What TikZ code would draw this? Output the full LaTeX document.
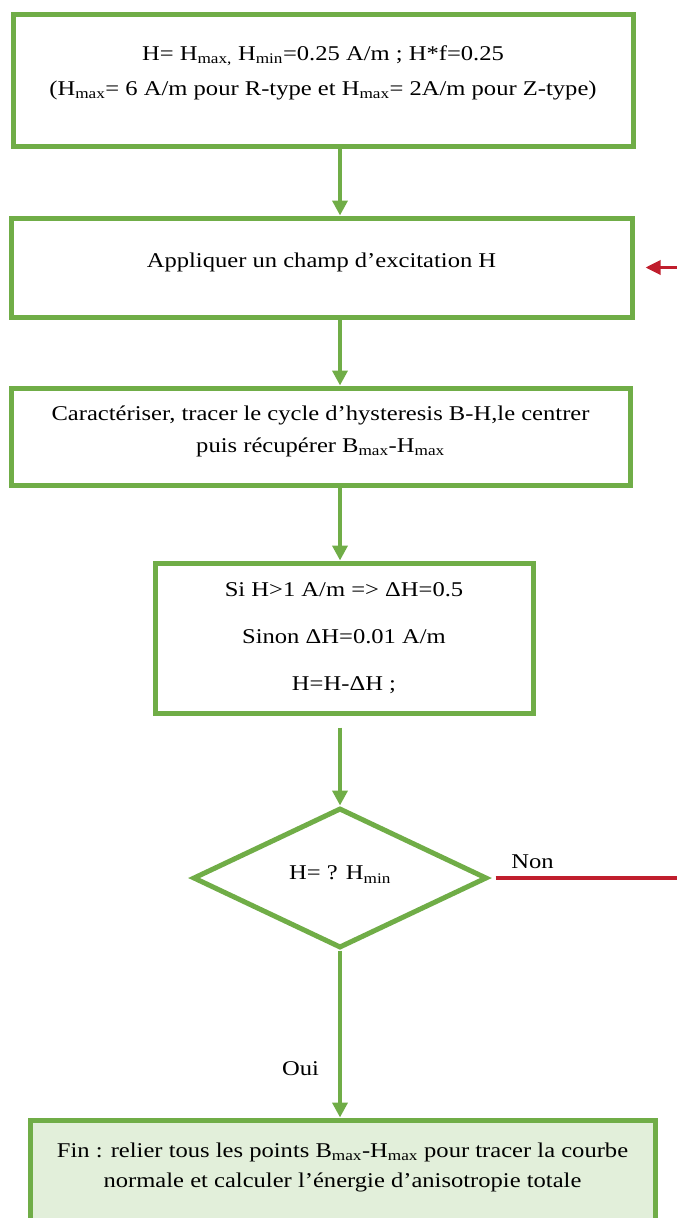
\documentclass[tikz,border=0pt]{standalone}
\usepackage{fontspec}
\setmainfont[FakeStretch=1.17]{Liberation Serif}
\usetikzlibrary{arrows.meta}
\usetikzlibrary{shapes.geometric}
\definecolor{boxgreen}{RGB}{112,173,71}
\definecolor{loopred}{RGB}{192,30,45}
\definecolor{finfill}{RGB}{226,239,218}

\begin{document}
\begin{tikzpicture}[x=1pt, y=-1pt,
  box/.style={draw=boxgreen, line width=5pt, fill=white, inner sep=0pt, align=center},
  test/.style={diamond, aspect=2.1, draw=boxgreen, line width=5pt, inner sep=0pt, font=\fontsize{21}{25}\selectfont},
  flow/.style={draw=boxgreen, line width=4pt, -{Triangle[length=15pt, width=15pt]}},
  back/.style={draw=loopred, line width=3.3pt},
  tag/.style={font=\fontsize{21}{25}\selectfont, inner sep=2pt}]

% Page frame
\useasboundingbox (0,0) rectangle (677,1218);
\clip (0,0) rectangle (677,1218);

% Boxes
\node[box, minimum width=620, minimum height=132, font=\fontsize{21}{35}\selectfont] (init) at (323,80)
  {H= H\textsubscript{max,} H\textsubscript{min}=0.25 A/m ; H*f=0.25\\
   (H\textsubscript{max}= 6 A/m pour R-type et H\textsubscript{max}= 2A/m pour Z-type)\rule[-19pt]{0pt}{0pt}};
\node[box, minimum width=621, minimum height=99, font=\fontsize{21}{32}\selectfont] (champ) at (321.5,267.5)
  {Appliquer un champ d’excitation H\rule[-15pt]{0pt}{0pt}};
\node[box, minimum width=619, minimum height=97, font=\fontsize{21}{32}\selectfont] (cycle) at (320.5,436.5)
  {Caractériser, tracer le cycle d’hysteresis B-H,le centrer\\
   puis récupérer B\textsubscript{max}-H\textsubscript{max}\rule[-15pt]{0pt}{0pt}};
\node[box, minimum width=378, minimum height=150, font=\fontsize{21}{47}\selectfont] (pas) at (344,638)
  {Si H>1 A/m => ΔH=0.5\\ Sinon ΔH=0.01 A/m\\ H=H-ΔH ;};
\node[test, minimum width=294, minimum height=140] (test) at (340,878)
  {H= ? H\textsubscript{min}\rule[-10pt]{0pt}{0pt}};
\node[box, fill=finfill, minimum width=625, minimum height=140, font=\fontsize{21}{30}\selectfont] (fin) at (342.5,1190)
  {Fin : relier tous les points B\textsubscript{max}-H\textsubscript{max} pour tracer la courbe\\
   normale et calculer l’énergie d’anisotropie totale\rule[-50pt]{0pt}{0pt}};

% Helper points
\coordinate (gap) at ([yshift=-12pt]pas.south);
\coordinate (rim) at (690,0);

% Flow arrows
\draw[flow] (test |- init.south) -- (test |- champ.north);
\draw[flow] (test |- champ.south) -- (test |- cycle.north);
\draw[flow] (test |- cycle.south) -- (test |- pas.north);
\draw[flow] (test |- gap) -- (test.north);
\draw[flow] (test.south) -- (test.south |- fin.north)
  node[tag, pos=0.71, left=17pt] (oui) {Oui};

% Loop back (Non)
\draw[back] ([xshift=6pt]test.east) -- (rim |- test.east)
  node[tag, pos=0.19, above=6pt] (non) {Non};
\draw[back, -{Triangle[length=15pt, width=14pt]}] (rim |- champ.east) -- ([xshift=11pt]champ.east);

\end{tikzpicture}
\end{document}
